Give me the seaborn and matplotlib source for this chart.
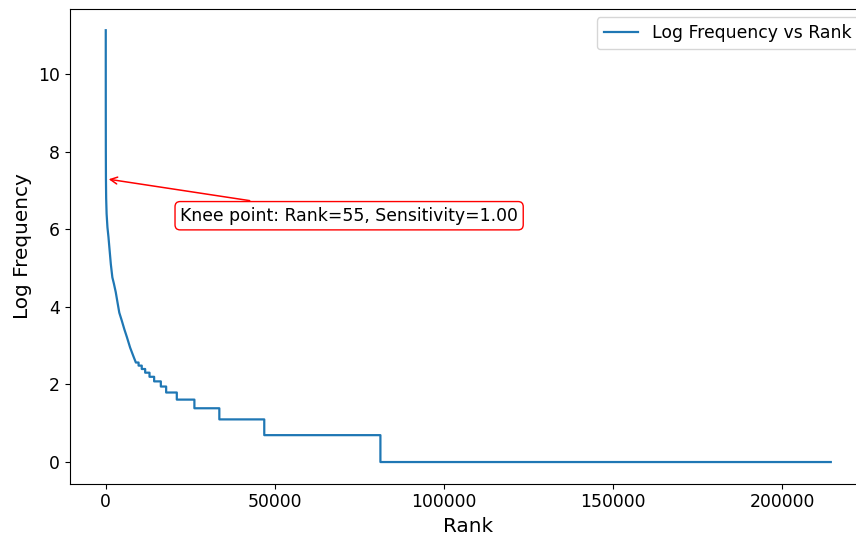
import matplotlib
matplotlib.use("Agg")
import matplotlib.pyplot as plt
import seaborn as sns
import numpy as np
import pandas as pd

# Smooth head of the curve (rank, log frequency)
curve_ranks = [1, 3, 10, 25, 55, 120, 250, 500, 800, 1100, 1500, 1950, 2400,
               2950, 3500, 4000, 4720, 5500, 6250, 7200, 8200]
curve_logf = [11.13, 10.2, 9.0, 8.0, 7.30, 6.8, 6.4, 6.05, 5.8, 5.5, 5.1,
              4.76, 4.6, 4.38, 4.1, 3.85, 3.65, 3.42, 3.22, 2.95, 2.72]

# Plateaus of the tail: rank where each level starts, and its log frequency
step_starts = [8900, 9700, 10640, 11650, 12930, 14300, 16280, 17850, 21000,
               26200, 33570, 46850, 81180]
step_logf = [2.565, 2.485, 2.398, 2.303, 2.197, 2.079, 1.946, 1.792, 1.609,
             1.386, 1.099, 0.693, 0.0]
last_rank = 214300

knee_rank = 55
knee_logf = 7.30
series_label = "Log Frequency vs Rank"
annot_text = "Knee point: Rank=55, Sensitivity=1.00"

# Assemble the polyline: curve head, then each plateau from its start to the next start
xs = list(curve_ranks)
ys = list(curve_logf)
ends = step_starts[1:] + [last_rank]
for s, e, v in zip(step_starts, ends, step_logf):
    xs += [s, e]
    ys += [v, v]
df = pd.DataFrame({"Rank": xs, "Log Frequency": ys})

plt.rcdefaults()
plt.rcParams["font.family"] = ["DejaVu Sans"]

fig = plt.figure(figsize=(8.56, 5.37), dpi=100)
ax = fig.add_axes([0.0812, 0.0994, 0.9317, 0.8845])

sns.lineplot(data=df, x="Rank", y="Log Frequency", ax=ax, sort=False,
             estimator=None, color="#1f77b4", linewidth=1.6,
             label=series_label)

ax.annotate(annot_text, xy=(knee_rank, knee_logf), xytext=(22000, 6.22),
            fontsize=12.4,
            arrowprops=dict(arrowstyle="->", color="red", lw=1.1),
            bbox=dict(boxstyle="round,pad=0.3", fc="white", ec="red", lw=1.0))

ax.set_xlabel("Rank", fontsize=14.4)
ax.set_ylabel("Log Frequency", fontsize=14.4)
ax.tick_params(labelsize=12.4)
ax.set_xticks([0, 50000, 100000, 150000, 200000])
ax.set_yticks([0, 2, 4, 6, 8, 10])
ax.legend(loc="upper right", fontsize=12.4)

fig.savefig("out.png", dpi=100)
